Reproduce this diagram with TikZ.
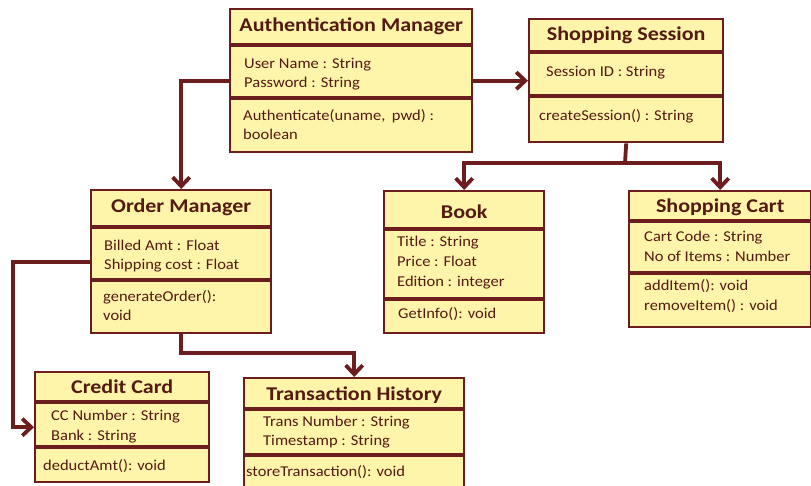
\documentclass[tikz,border=0pt]{standalone}
\usepackage{fontspec}
\usepackage{graphicx}
\setmainfont{Carlito}
\usetikzlibrary{arrows.meta,calc}
\definecolor{boxfill}{RGB}{255,245,170}
\definecolor{boxline}{RGB}{108,30,30}
\definecolor{txtcol}{RGB}{84,26,16}
\newcommand{\wideT}[1]{\scalebox{1.13}[1]{#1}}
\newcommand{\wideA}[1]{\scalebox{1.1}[1]{#1}}
\tikzset{
  cls/.style={draw=boxline, fill=boxfill, line width=2.4pt, rectangle, anchor=north west, inner sep=0pt},
  sep/.style={draw=boxline, line width=4pt},
  ttl/.style={text=txtcol, font=\fontsize{19.5}{22}\selectfont\bfseries, anchor=center, inner sep=0pt},
  attr/.style={text=txtcol, font=\fontsize{15}{17}\selectfont, anchor=west, inner sep=0pt, text height=10.5pt, text depth=3pt},
  conn/.style={draw=boxline, line width=3.8pt},
  arr/.style={conn, -{Straight Barb[length=9pt,width=17pt]}}
}
\begin{document}
\begin{tikzpicture}[x=1pt,y=-1pt]
\useasboundingbox[fill=white] (0,0) rectangle (811,485);
% boxes
\node[cls, minimum width=242, minimum height=143] (auth) at (229,8) {};
\node[cls, minimum width=194, minimum height=123] (session) at (528,18) {};
\node[cls, minimum width=180, minimum height=143] (order) at (90,189) {};
\node[cls, minimum width=160, minimum height=142] (book) at (383,190) {};
\node[cls, minimum width=182, minimum height=136] (cart) at (628,190) {};
\node[cls, minimum width=174, minimum height=110] (credit) at (34,371) {};
\node[cls, minimum width=220, minimum height=130] (trans) at (243,377) {};
% separators
\draw[sep] (auth.west |- 0,45) -- (auth.east |- 0,45);
\draw[sep] (auth.west |- 0,98) -- (auth.east |- 0,98);
\draw[sep] (session.west |- 0,52) -- (session.east |- 0,52);
\draw[sep] (session.west |- 0,96) -- (session.east |- 0,96);
\draw[sep] (order.west |- 0,227) -- (order.east |- 0,227);
\draw[sep] (order.west |- 0,280) -- (order.east |- 0,280);
\draw[sep] (book.west |- 0,229) -- (book.east |- 0,229);
\draw[sep] (book.west |- 0,299) -- (book.east |- 0,299);
\draw[sep] (cart.west |- 0,221) -- (cart.east |- 0,221);
\draw[sep] (cart.west |- 0,273) -- (cart.east |- 0,273);
\draw[sep] (credit.west |- 0,402) -- (credit.east |- 0,402);
\draw[sep] (credit.west |- 0,447) -- (credit.east |- 0,447);
\draw[sep] (trans.west |- 0,409) -- (trans.east |- 0,409);
\draw[sep] (trans.west |- 0,455) -- (trans.east |- 0,455);
% texts
\node[ttl] (authT) at (auth.north |- 0,26) {\wideT{Authentication Manager}};
\node[attr] (authA1) at (244,65) {\wideA{User Name : String}};
\node[attr] (authA2) at (244,84) {\wideA{Password : String}};
\node[attr] (authM1) at (243,117) {\wideA{Authenticate(uname,\, pwd) :}};
\node[attr] (authM2) at (243,136) {\wideA{boolean}};
\node[ttl] (sessT) at (session.north |- 0,35) {\wideT{Shopping Session}};
\node[attr] (sessA1) at (546,73) {\wideA{Session ID : String}};
\node[attr] (sessM1) at (539,117) {\wideA{createSession() : String}};
\node[ttl] (ordT) at (order.north |- 0,207) {\wideT{Order Manager}};
\node[attr] (ordA1) at (104,247) {\wideA{Billed Amt : Float}};
\node[attr] (ordA2) at (104,266) {\wideA{Shipping cost : Float}};
\node[attr] (ordM1) at (103,298) {\wideA{generateOrder():}};
\node[attr] (ordM2) at (103,317) {\wideA{void}};
\node[ttl] (bookT) at (book.north |- 0,212) {\wideT{Book}};
\node[attr] (bookA1) at (397,243) {\wideA{Title : String}};
\node[attr] (bookA2) at (397,263) {\wideA{Price : Float}};
\node[attr] (bookA3) at (397,283) {\wideA{Edition : integer}};
\node[attr] (bookM1) at (398,315) {\wideA{GetInfo(): void}};
\node[ttl] (cartT) at (cart.north |- 0,207) {\wideT{Shopping Cart}};
\node[attr] (cartA1) at (644,238) {\wideA{Cart Code : String}};
\node[attr] (cartA2) at (644,258) {\wideA{No of Items : Number}};
\node[attr] (cartM1) at (644,287) {\wideA{addItem(): void}};
\node[attr] (cartM2) at (644,307) {\wideA{removeItem() : void}};
\node[ttl] (credT) at (credit.north |- 0,387) {\wideT{Credit Card}};
\node[attr] (credA1) at (51,417) {\wideA{CC Number : String}};
\node[attr] (credA2) at (51,437) {\wideA{Bank : String}};
\node[attr] (credM1) at (43,467) {\wideA{deductAmt(): void}};
\node[ttl] (transT) at (trans.north |- 0,395) {\wideT{Transaction History}};
\node[attr] (transA1) at (263,423) {\wideA{Trans Number : String}};
\node[attr] (transA2) at (263,442) {\wideA{Timestamp : String}};
\node[attr] (transM1) at (246,473) {\wideA{storeTransaction(): void}};
% connectors
\coordinate (split) at (625,163);
\draw[arr] (auth.east) -- (session.west);
\draw[arr] (auth.west) -| (order.north);
\draw[arr] (order.west) -| ([xshift=-21pt]credit.west) -- (credit.west);
\draw[arr] (order.south) |- ([yshift=24pt]trans.north) -- (trans.north);
\draw[conn] (session.south) -- (split);
\draw[arr] (split) -| (book.north);
\draw[arr] (split) -| (cart.north);
\end{tikzpicture}
\end{document}
